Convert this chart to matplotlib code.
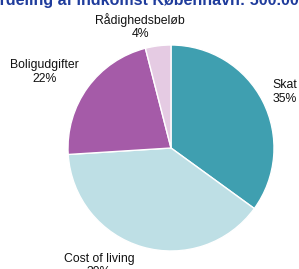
import matplotlib
matplotlib.use('Agg')
import matplotlib.pyplot as plt

# data
categories = ['Skat', 'Cost of living', 'Boligudgifter', 'Rådighedsbeløb']
shares = [35, 39, 22, 4]
colors = ['#3f9fb0', '#bedfe5', '#a55ba8', '#e5cbe3']
title = 'Fordeling af indkomst København: 500.000'

# label centres in units of the pie radius (layout, like Excel best fit)
label_pos = [(1.10, 0.54), (-0.70, -1.14), (-1.23, 0.74), (-0.30, 1.18)]

plt.rcParams['font.family'] = ['Liberation Sans', 'DejaVu Sans']

W, H = 299, 269
fig = plt.figure(figsize=(W / 100, H / 100), dpi=100)

cx, cy, r = 171, 148, 103
ax = fig.add_axes([(cx - r) / W, (H - cy - r) / H, 2 * r / W, 2 * r / H])

labels = ['%s\n%d%%' % (c, v) for c, v in zip(categories, shares)]
wedges, texts = ax.pie(shares, labels=labels, colors=colors, startangle=90,
                       counterclock=False, radius=1, labeldistance=1.16,
                       wedgeprops={'edgecolor': 'white', 'linewidth': 1},
                       textprops={'fontsize': 8.8, 'color': '#111111'})
for t, pos in zip(texts, label_pos):
    t.set_position(pos)
    t.set_ha('center')
    t.set_va('center')
    t.set_multialignment('center')
    t.set_clip_on(False)
ax.set_xlim(-1, 1)
ax.set_ylim(-1, 1)

fig.text(144 / W, 1 - 5 / H, title, ha='center', va='baseline',
         fontsize=11.5, fontweight='bold', color='#1f3c9c')

fig.savefig('out.png', dpi=100)
